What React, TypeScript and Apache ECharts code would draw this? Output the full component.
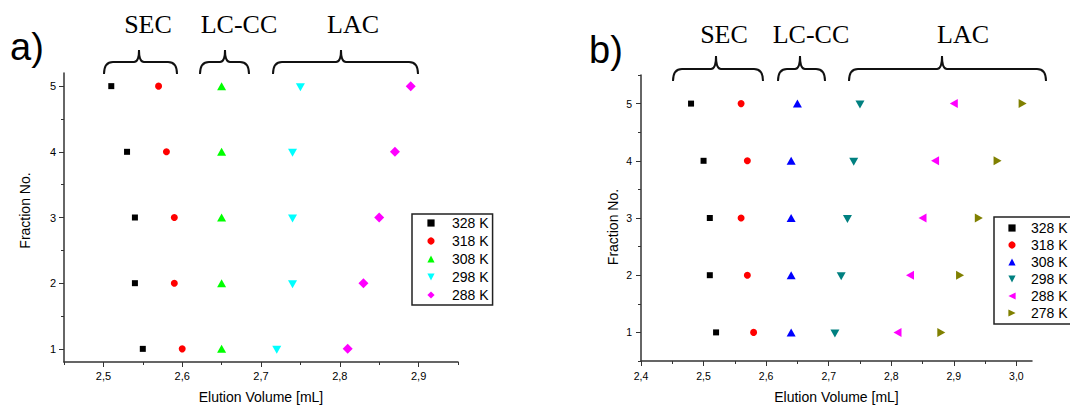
import { useEffect, useRef } from "react";
import * as echarts from "echarts";

// ---------- data ----------
const fractions = [1, 2, 3, 4, 5];

const tempsA = ["328 K", "318 K", "308 K", "298 K", "288 K"];
const tempsB = ["328 K", "318 K", "308 K", "298 K", "288 K", "278 K"];

// panel a) elution volumes [mL] for fractions 1..5
const volA328 = [2.55, 2.54, 2.54, 2.53, 2.51];
const volA318 = [2.6, 2.59, 2.59, 2.58, 2.57];
const volA308 = [2.65, 2.65, 2.65, 2.65, 2.65];
const volA298 = [2.72, 2.74, 2.74, 2.74, 2.75];
const volA288 = [2.81, 2.83, 2.85, 2.87, 2.89];

// panel b) elution volumes [mL] for fractions 1..5
const volB328 = [2.52, 2.51, 2.51, 2.5, 2.48];
const volB318 = [2.58, 2.57, 2.56, 2.57, 2.56];
const volB308 = [2.64, 2.64, 2.64, 2.64, 2.65];
const volB298 = [2.71, 2.72, 2.73, 2.74, 2.75];
const volB288 = [2.81, 2.83, 2.85, 2.87, 2.9];
const volB278 = [2.88, 2.91, 2.94, 2.97, 3.01];

const volsA = [volA328, volA318, volA308, volA298, volA288];
const volsB = [volB328, volB318, volB308, volB298, volB288, volB278];

// tick labels
const xTicksA = [2.5, 2.6, 2.7, 2.8, 2.9];
const xMinorA = [2.45, 2.55, 2.65, 2.75, 2.85, 2.95];
const yTicksA = [1, 2, 3, 4, 5];
const yMinorA = [1.5, 2.5, 3.5, 4.5];
const xTicksB = [2.4, 2.5, 2.6, 2.7, 2.8, 2.9, 3.0];
const xMinorB = [2.45, 2.55, 2.65, 2.75, 2.85, 2.95];
const yTicksB = [1, 2, 3, 4, 5];
const yMinorB = [0.5, 1.5, 2.5, 3.5, 4.5, 5.5];

const braceLabels = ["SEC", "LC-CC", "LAC"];
const panelLabels = ["a)", "b)"];
const xTitle = "Elution Volume [mL]";
const yTitle = "Fraction No.";

// ---------- styles ----------
const colorsA = ["#000000", "#ff0000", "#00ff00", "#00ffff", "#ff00ff"];
const colorsB = ["#000000", "#ff0000", "#0000ff", "#008080", "#ff00ff", "#808000"];
type Sym = { symbol: string; size: number | number[]; rotate: number; offset: number[] };
const symSquare: Sym = { symbol: "rect", size: 6, rotate: 0, offset: [0, 0] };
const symCircle: Sym = { symbol: "circle", size: 7, rotate: 0, offset: [0, 0] };
const symUp: Sym = { symbol: "triangle", size: [9, 8], rotate: 0, offset: [0, 0] };
const symDown: Sym = { symbol: "triangle", size: [9, 8], rotate: 180, offset: [0, 1] };
const symDiamond: Sym = { symbol: "diamond", size: [10, 10], rotate: 0, offset: [0, 0] };
const symLeft: Sym = { symbol: "triangle", size: [9, 8], rotate: 90, offset: [0, 0] };
const symRight: Sym = { symbol: "triangle", size: [9, 8], rotate: -90, offset: [0, 0] };
const symsA = [symSquare, symCircle, symUp, symDown, symDiamond];
const symsB = [symSquare, symCircle, symUp, symDown, symLeft, symRight];

const SANS = "Liberation Sans, Arial, sans-serif";
const SERIF = "Liberation Serif, Times New Roman, serif";
const AXIS_COLOR = "#333";

// layout of the decorations (pixels)
const braceLayoutA = [
  { x0: 104, x1: 177, xc: 139, yEnd: 74, yLine: 62, yPeak: 50, tx: 148, ty: 24 },
  { x0: 200, x1: 249, xc: 225, yEnd: 74, yLine: 62, yPeak: 50, tx: 239, ty: 24 },
  { x0: 273, x1: 418, xc: 341, yEnd: 74, yLine: 62, yPeak: 50, tx: 353, ty: 24 },
];
const braceLayoutB = [
  { x0: 673, x1: 763, xc: 716, yEnd: 81, yLine: 69, yPeak: 56, tx: 724, ty: 34 },
  { x0: 778, x1: 825, xc: 800, yEnd: 81, yLine: 69, yPeak: 56, tx: 811, ty: 34 },
  { x0: 849, x1: 1046, xc: 942, yEnd: 81, yLine: 69, yPeak: 56, tx: 963, ty: 34 },
];

function braceElements(b: { x0: number; x1: number; xc: number; yEnd: number; yLine: number; yPeak: number }) {
  const r = 9;
  const rc = 5;
  const style = { stroke: "#111", lineWidth: 2, fill: null as any };
  return [
    { type: "bezierCurve", shape: { x1: b.x0, y1: b.yEnd, x2: b.x0 + r, y2: b.yLine, cpx1: b.x0, cpy1: b.yLine }, style },
    { type: "line", shape: { x1: b.x0 + r, y1: b.yLine, x2: b.xc - rc, y2: b.yLine }, style },
    { type: "bezierCurve", shape: { x1: b.xc - rc, y1: b.yLine, x2: b.xc, y2: b.yPeak, cpx1: b.xc, cpy1: b.yLine }, style },
    { type: "bezierCurve", shape: { x1: b.xc + rc, y1: b.yLine, x2: b.xc, y2: b.yPeak, cpx1: b.xc, cpy1: b.yLine }, style },
    { type: "line", shape: { x1: b.xc + rc, y1: b.yLine, x2: b.x1 - r, y2: b.yLine }, style },
    { type: "bezierCurve", shape: { x1: b.x1, y1: b.yEnd, x2: b.x1 - r, y2: b.yLine, cpx1: b.x1, cpy1: b.yLine }, style },
  ];
}

function fmtX(v: number) {
  return v.toFixed(1).replace(".", ",");
}

function mainAxis(
  dim: "x" | "y",
  gridIndex: number,
  min: number,
  max: number,
  ticks: number[],
  fontSize: number,
  nameGap: number,
  margin: number,
  namePadding: number[] = [0, 0, 0, 0]
) {
  return {
    type: "value",
    gridIndex,
    position: dim === "x" ? "bottom" : "left",
    min,
    max,
    name: dim === "x" ? xTitle : yTitle,
    nameLocation: "middle",
    nameGap,
    nameTextStyle: { fontFamily: SANS, fontSize: 14, color: "#000", padding: namePadding },
    axisLine: { show: true, onZero: false, lineStyle: { color: AXIS_COLOR, width: 1.5 } },
    axisTick: { show: true, inside: false, length: 5, customValues: ticks, lineStyle: { color: AXIS_COLOR, width: 1 } },
    axisLabel: {
      show: true,
      customValues: ticks,
      margin,
      fontFamily: SANS,
      fontSize,
      color: "#000",
      formatter: (v: number) => (dim === "x" ? fmtX(v) : String(v)),
    },
    splitLine: { show: false },
  };
}

function minorAxis(dim: "x" | "y", gridIndex: number, min: number, max: number, ticks: number[]) {
  return {
    type: "value",
    gridIndex,
    position: dim === "x" ? "bottom" : "left",
    min,
    max,
    axisLine: { show: false, onZero: false },
    axisTick: { show: true, inside: false, length: 3, customValues: ticks, lineStyle: { color: AXIS_COLOR, width: 1 } },
    axisLabel: { show: false },
    splitLine: { show: false },
  };
}

function makeSeries(prefix: string, temps: string[], vols: number[][], colors: string[], syms: Sym[], axisIndex: number) {
  return temps.map((t, i) => ({
    type: "line",
    name: prefix + "|" + t,
    xAxisIndex: axisIndex,
    yAxisIndex: axisIndex,
    data: fractions.map((f, k) => [vols[i][k], f]),
    symbol: syms[i].symbol,
    symbolSize: syms[i].size,
    symbolRotate: syms[i].rotate,
    symbolOffset: syms[i].offset,
    showSymbol: true,
    showAllSymbol: true,
    itemStyle: { color: colors[i], opacity: 1 },
    lineStyle: { width: 0, opacity: 0 },
    emphasis: { disabled: true },
    silent: true,
    z: 3,
  }));
}

export default function App() {
  const ref = useRef<HTMLDivElement>(null);
  useEffect(() => {
    if (!ref.current) return;
    const chart = echarts.init(ref.current, undefined, { renderer: "svg" });

    const graphic: any[] = [];
    braceLayoutA.forEach((b, i) => {
      graphic.push({ type: "group", children: braceElements(b) });
      graphic.push({
        type: "text",
        style: { text: braceLabels[i], x: b.tx, y: b.ty, font: `26px ${SERIF}`, fill: "#000", textAlign: "center", textVerticalAlign: "middle" },
      });
    });
    braceLayoutB.forEach((b, i) => {
      graphic.push({ type: "group", children: braceElements(b) });
      graphic.push({
        type: "text",
        style: { text: braceLabels[i], x: b.tx, y: b.ty, font: `26px ${SERIF}`, fill: "#000", textAlign: "center", textVerticalAlign: "middle" },
      });
    });
    graphic.push({
      type: "text",
      style: { text: panelLabels[0], x: 10, y: 47, font: `38px ${SANS}`, fill: "#000", textAlign: "left", textVerticalAlign: "middle" },
    });
    graphic.push({
      type: "text",
      style: { text: panelLabels[1], x: 589, y: 50, font: `38px ${SANS}`, fill: "#000", textAlign: "left", textVerticalAlign: "middle" },
    });

    const legendText = { fontFamily: SANS, fontSize: 14, color: "#000" };

    chart.setOption({
      animation: false,
      backgroundColor: "#ffffff",
      grid: [
        { left: 64, top: 73, width: 394, height: 292, containLabel: false },
        { left: 641, top: 75, width: 391, height: 290, containLabel: false },
      ],
      xAxis: [
        mainAxis("x", 0, 2.45, 2.95, xTicksA, 11, 28, 8),
        minorAxis("x", 0, 2.45, 2.95, xMinorA),
        mainAxis("x", 1, 2.4, 3.025, xTicksB, 10.5, 29, 9),
        minorAxis("x", 1, 2.4, 3.025, xMinorB),
      ],
      yAxis: [
        mainAxis("y", 0, 0.8, 5.2, yTicksA, 11, 32, 8, [0, 0, 0, 14]),
        minorAxis("y", 0, 0.8, 5.2, yMinorA),
        mainAxis("y", 1, 0.5, 5.5, yTicksB, 10.5, 21, 9, [0, 18, 0, 0]),
        minorAxis("y", 1, 0.5, 5.5, yMinorB),
      ],
      legend: [
        {
          data: tempsA.map((t) => "a|" + t),
          formatter: (n: string) => n.split("|")[1],
          orient: "vertical",
          left: 412,
          top: 214,
          itemWidth: 32,
          itemHeight: 9,
          itemGap: 4,
          padding: [2, 4, 3, 3],
          borderColor: "#222",
          borderWidth: 1.5,
          backgroundColor: "#fff",
          selectedMode: false,
          textStyle: legendText,
        },
        {
          data: tempsB.map((t) => "b|" + t),
          formatter: (n: string) => n.split("|")[1],
          orient: "vertical",
          left: 994,
          top: 217,
          itemWidth: 28,
          itemHeight: 9,
          itemGap: 3,
          padding: [4, 10, 4, 4],
          borderColor: "#222",
          borderWidth: 1.5,
          backgroundColor: "#fff",
          selectedMode: false,
          textStyle: legendText,
        },
      ],
      series: [
        ...makeSeries("a", tempsA, volsA, colorsA, symsA, 0),
        ...makeSeries("b", tempsB, volsB, colorsB, symsB, 2),
      ],
      graphic,
    });
    return () => chart.dispose();
  }, []);
  return <div ref={ref} style={{ position: "absolute", left: 0, top: 0, width: 1070, height: 409 }} />;
}
